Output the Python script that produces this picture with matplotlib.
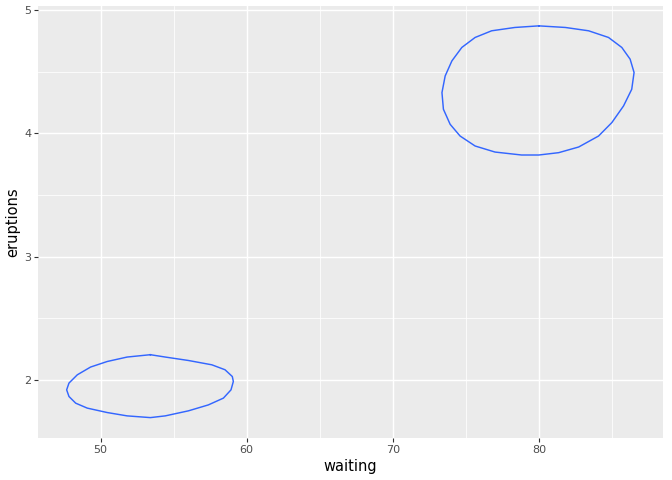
import numpy as np
from matplotlib import pyplot as plt

# contour of the 2d density (waiting, eruptions)
upper_waiting = [80.00, 78.36, 76.77, 75.64, 74.73, 74.05, 73.59, 73.37, 73.47, 73.93,
                 74.61, 75.64, 77.00, 78.82, 80.00, 81.36, 82.73, 84.09, 85.00, 85.80,
                 86.36, 86.52, 86.25, 85.68, 84.77, 83.41, 81.82]
upper_eruptions = [4.872, 4.859, 4.832, 4.778, 4.697, 4.588, 4.466, 4.331, 4.196, 4.074,
                   3.979, 3.898, 3.849, 3.825, 3.825, 3.844, 3.890, 3.979, 4.088, 4.223,
                   4.358, 4.494, 4.602, 4.697, 4.778, 4.832, 4.859]

lower_waiting = [53.41, 51.82, 50.46, 49.32, 48.41, 47.84, 47.68, 47.84, 48.30, 49.09,
                 50.46, 51.82, 53.41, 54.43, 56.02, 57.38, 58.41, 58.93, 59.09, 59.02,
                 58.52, 57.62, 56.02, 54.43]
lower_eruptions = [2.206, 2.187, 2.151, 2.106, 2.043, 1.976, 1.921, 1.867, 1.813, 1.773,
                   1.737, 1.710, 1.696, 1.710, 1.751, 1.799, 1.854, 1.921, 1.989, 2.029,
                   2.084, 2.124, 2.159, 2.187]

x_ticks = [50, 60, 70, 80]
y_ticks = [2, 3, 4, 5]

fig = plt.figure(figsize=(6.72, 4.8), dpi=100)
ax = fig.add_axes([0.057, 0.0881, 0.9296, 0.8999])
ax.set_facecolor("#EBEBEB")
for s in ax.spines.values():
    s.set_visible(False)

ax.set_xlim(45.74, 88.5)
ax.set_ylim(1.533, 5.035)
ax.set_xticks(x_ticks)
ax.set_yticks(y_ticks)
ax.set_xticks([55, 65, 75, 85], minor=True)
ax.set_yticks([2.5, 3.5, 4.5], minor=True)
ax.grid(which="major", color="white", linewidth=1.07)
ax.grid(which="minor", color="white", linewidth=0.55)
ax.set_axisbelow(True)
ax.tick_params(which="major", length=3, width=0.8, color="#333333",
               labelcolor="#4D4D4D", labelsize=8, pad=2)
ax.tick_params(which="minor", length=0)

for wx, ey in [(upper_waiting, upper_eruptions), (lower_waiting, lower_eruptions)]:
    xs = np.append(wx, wx[0])
    ys = np.append(ey, ey[0])
    ax.plot(xs, ys, color="#3366FF", linewidth=1.05)

ax.set_xlabel("waiting", fontsize=10.5, labelpad=3)
ax.set_ylabel("eruptions", fontsize=10.5, labelpad=3)

plt.savefig("out.png", dpi=100)
